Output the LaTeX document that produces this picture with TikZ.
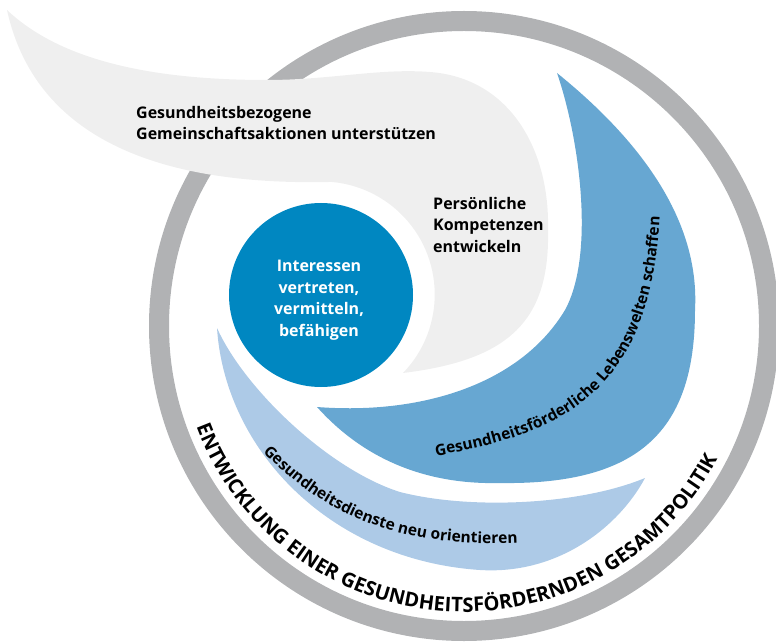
\documentclass[tikz,border=0pt]{standalone}
\usepackage{fontspec}
\setmainfont{Open Sans}
\usepackage{tikz}
\usetikzlibrary{decorations.text}
\definecolor{ringgrey}{RGB}{177,178,180}
\definecolor{swooshgrey}{RGB}{239,239,239}
\definecolor{midblue}{RGB}{103,167,210}
\definecolor{lightblue}{RGB}{173,202,231}
\definecolor{darkblue}{RGB}{0,135,193}
\newcommand{\swooshfont}{\bfseries\fontsize{15.5}{18}\selectfont}
\newcommand{\ringfont}{\bfseries\fontsize{20}{24}\selectfont}

\begin{document}
\begin{tikzpicture}[x=1pt, y=-1pt,
    fieldtext/.style={font=\bfseries\fontsize{16}{21.5}\selectfont, inner sep=0pt}]
   \useasboundingbox (0,0) rectangle (776,644);
   \draw[color=ringgrey, line width=20pt] (464,326) circle[radius=305];
   \fill[color=swooshgrey] (7,10) .. controls (60,60) and (150,80) .. (267,80)
      .. controls (330,80) and (380,68) .. (430,72)
      .. controls (510,78) and (550,150) .. (548,230)
      .. controls (550,320) and (510,360) .. (403,373)
      arc[start angle=44, end angle=-85, radius=113]
      .. controls (200,185) and (40,160) .. cycle;
   \fill[color=midblue] (557,73) .. controls (640,140) and (700,220) .. (695,310)
      .. controls (695,430) and (640,485) .. (500,483)
      .. controls (420,485) and (360,455) .. (317,407)
      .. controls (420,415) and (520,385) .. (565,310)
      .. controls (595,255) and (580,140) .. cycle;
   \fill[color=lightblue] (217,328) .. controls (225,450) and (330,560) .. (480,570)
      .. controls (560,575) and (620,525) .. (645,478)
      .. controls (580,505) and (470,510) .. (400,492)
      .. controls (330,470) and (245,390) .. cycle;
   \fill[color=darkblue] (321,295) circle[radius=92];
   \node[fieldtext, align=left, anchor=north west] (community) at (136,106)
      {Gesundheitsbezogene\\Gemeinschaftsaktionen unterstützen};
   \node[fieldtext, align=left, anchor=north west] (skills) at (433,197)
      {Persönliche\\Kompetenzen\\entwickeln};
   \node[fieldtext, align=center, text=white] (advocate) at (319,300)
      {Interessen\\vertreten,\\vermitteln,\\befähigen};
   \path[decorate, decoration={text along path, text align=left,
      text={|\swooshfont|Gesundheitsförderliche Lebenswelten schaffen}}]
      (436,456) .. controls (570,432) and (668,390) .. (660,160);
   \path[decorate, decoration={text along path, text align=left,
      text={|\swooshfont|Gesundheitsdienste neu orientieren}}]
      (263,452) .. controls (320,510) and (400,560) .. (570,538);
   \path[decorate, decoration={text along path, text align=center,
      text={|\ringfont|ENTWICKLUNG EINER GESUNDHEITSFÖRDERNDEN GESAMTPOLITIK}}]
      (464,326) ++(175:286) arc[start angle=175, end angle=12, radius=286];
\end{tikzpicture}
\end{document}
